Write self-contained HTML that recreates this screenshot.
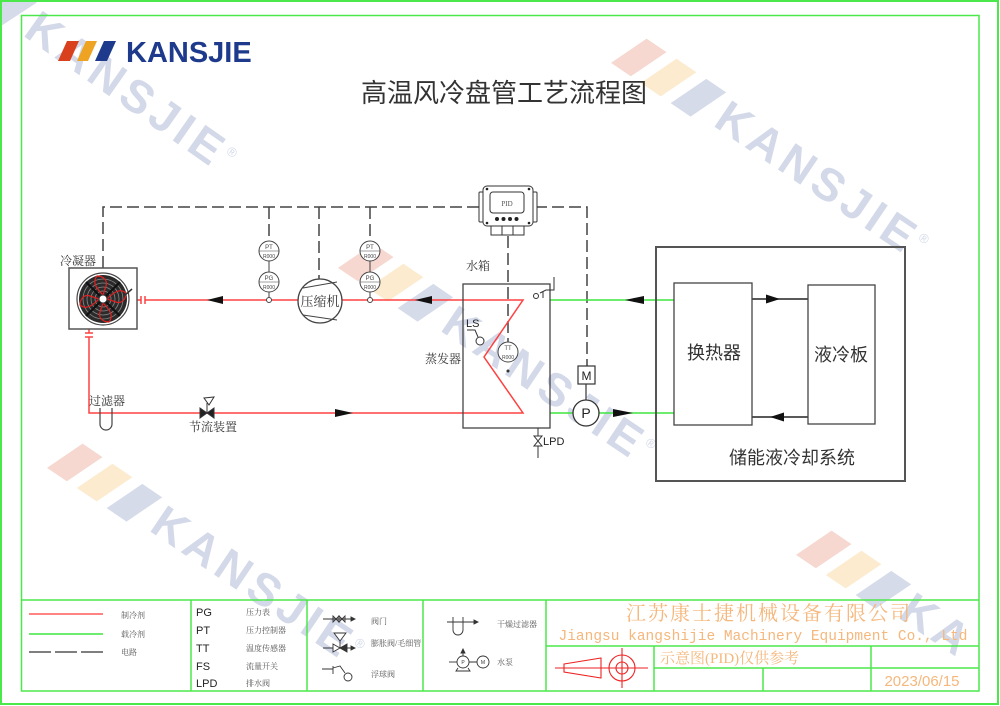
<!DOCTYPE html>
<html><head><meta charset="utf-8"><style>
html,body{margin:0;padding:0;background:#fff;width:1000px;height:706px;overflow:hidden;}
svg{display:block;overflow:hidden;}
.cn{font-family:"Liberation Serif","Noto Serif CJK SC",serif;}
.cs{font-family:"Liberation Sans","Noto Sans CJK SC",sans-serif;}
</style></head><body>
<svg width="1000" height="706" viewBox="0 0 1000 706" xmlns="http://www.w3.org/2000/svg">
<defs>
<clipPath id="pg"><rect x="0" y="0" width="1000" height="706"/></clipPath>
<g id="dia">
  <polygon points="-118.5,5 -94.5,5 -78.5,-35 -102.5,-35" fill="#f6d8d0"/>
  <polygon points="-82.5,5 -58.5,5 -42.5,-35 -66.5,-35" fill="#fcebcf"/>
  <polygon points="-46.5,5 -22.5,5 -6.5,-35 -30.5,-35" fill="#d6dbea"/>
</g>
<g id="wm">
  <use href="#dia"/>
  <text x="0" y="0" font-family="Liberation Sans, sans-serif" font-weight="bold" font-size="46" letter-spacing="5" fill="#d3d9e8">KANSJIE<tspan font-size="13" font-weight="normal" dy="-20">®</tspan></text>
</g>
</defs>

<!-- watermarks (under) -->
<g clip-path="url(#pg)">
<use href="#wm" transform="translate(22,35) rotate(35)"/>
<use href="#wm" transform="translate(712,125) rotate(34)"/>
<use href="#wm" transform="translate(439,330) rotate(34)"/>
<use href="#wm" transform="translate(148,530) rotate(34)"/>
<g transform="translate(897,617) rotate(34)">
  <use href="#dia"/>
  <text x="0" y="0" font-family="Liberation Sans, sans-serif" font-weight="bold" font-size="46" letter-spacing="5" fill="#d3d9e8">KA</text>
</g>
</g>

<!-- frames -->
<rect x="1" y="1" width="997" height="703" fill="none" stroke="#4be84b" stroke-width="2"/>
<rect x="21.5" y="15.5" width="957.5" height="675.5" fill="none" stroke="#4be84b" stroke-width="1.5"/>

<!-- logo -->
<polygon points="58,61 70,61 79,41 67,41" fill="#d9411e"/>
<polygon points="77,61 88,61 97,41 86,41" fill="#efa322"/>
<polygon points="95,61 107,61 116,41 104,41" fill="#1e3a8c"/>
<text x="126" y="62" font-family="Liberation Sans, sans-serif" font-weight="bold" font-size="29" fill="#1e3a8c">KANSJIE</text>

<!-- title -->
<text x="504" y="102" text-anchor="middle" class="cs" font-size="26" fill="#333">高温风冷盘管工艺流程图</text>

<!-- dashed electric lines -->
<g stroke="#444" stroke-width="1.5" fill="none" stroke-dasharray="12 5">
  <path d="M103 268 V207 H480"/>
  <path d="M535 207 H587 V366"/>
  <path d="M508 236 V342"/>
  <path d="M269 207 V241"/>
  <path d="M319 207 V279"/>
  <path d="M370 207 V241"/>
</g>

<!-- red refrigerant lines -->
<g stroke="#ff4040" stroke-width="1.5" fill="none">
  <path d="M137 300 H141 M145 300 H523 L484 357 L523 413 H89 V337 M89 333 V329"/>
  <path d="M141 296 V304 M145 296 V304"/>
  <path d="M85 333 H93 M85 337 H93"/>
</g>

<!-- green coolant lines -->
<g stroke="#3de63d" stroke-width="1.5" fill="none">
  <path d="M550 300 H674"/>
  <path d="M550 413 H674"/>
</g>

<!-- black lines in storage system -->
<g stroke="#222" stroke-width="1.5">
  <path d="M752 299 H808"/>
  <path d="M752 417 H808"/>
</g>

<!-- arrows -->
<g fill="#111">
  <polygon points="207,300 223,296 223,304"/>
  <polygon points="415,300 432,296 432,304"/>
  <polygon points="353,413 335,409 335,417"/>
  <polygon points="625,300 644,296 644,304"/>
  <polygon points="633,413 613,409 613,417"/>
  <polygon points="780,299 766,294.5 766,303.5"/>
  <polygon points="770,417 784,412.5 784,421.5"/>
</g>

<!-- condenser -->
<rect x="69" y="268" width="68" height="61" fill="#fff" stroke="#555" stroke-width="1.5"/>
<circle cx="103" cy="299" r="26" fill="#fff" stroke="#444" stroke-width="1.2"/>
<circle cx="103" cy="299" r="24" fill="#2b2b2b"/>
<g fill="none" stroke="#8a8a8a" stroke-width="0.8">
  <circle cx="103" cy="299" r="20"/><circle cx="103" cy="299" r="16"/><circle cx="103" cy="299" r="12"/><circle cx="103" cy="299" r="8"/>
</g>
<g stroke="#111" stroke-width="2.2">
  <path d="M86 282 L120 316 M120 282 L86 316"/>
</g>
<g fill="none" stroke="#e02020" stroke-width="1.2">
  <path d="M103 295 C96 288 92 282 97 276 C103 276 108 280 106 286 Z"/>
  <path d="M107 299 C114 292 120 288 126 293 C126 299 122 304 116 302 Z"/>
  <path d="M103 303 C110 310 114 316 109 322 C103 322 98 318 100 312 Z"/>
  <path d="M99 299 C92 306 86 310 80 305 C80 299 84 294 90 296 Z"/>
</g>
<circle cx="103" cy="299" r="4" fill="#fff" stroke="#333"/>
<path d="M124 296 L132 289" stroke="#333" stroke-width="1.5"/>
<text x="60" y="265" class="cn" font-size="12" fill="#333">冷凝器</text>

<!-- PT/PG instruments -->
<g stroke="#444" stroke-width="1" fill="#fff">
  <circle cx="269" cy="251" r="10"/><circle cx="269" cy="282" r="10"/>
  <path d="M269 261 V272 M269 292 V297.5" fill="none"/>
  <circle cx="269" cy="300" r="2.5"/>
  <circle cx="370" cy="251" r="10"/><circle cx="370" cy="282" r="10"/>
  <path d="M370 261 V272 M370 292 V297.5" fill="none"/>
  <circle cx="370" cy="300" r="2.5"/>
  <path d="M259 251 H279 M259 282 H279 M360 251 H380 M360 282 H380" stroke-width="0.5" fill="none"/>
</g>
<g class="cs" font-size="6" fill="#444" text-anchor="middle">
  <text x="269" y="249">PT</text><text x="269" y="258" font-size="5">R000</text>
  <text x="269" y="280">PG</text><text x="269" y="289" font-size="5">R000</text>
  <text x="370" y="249">PT</text><text x="370" y="258" font-size="5">R000</text>
  <text x="370" y="280">PG</text><text x="370" y="289" font-size="5">R000</text>
</g>

<!-- compressor -->
<circle cx="320" cy="301" r="22" fill="#fff" stroke="#444" stroke-width="1.3"/>
<path d="M303 288 L337 282 M303 315 L337 320" stroke="#444" stroke-width="1" fill="none"/>
<text x="320" y="306" text-anchor="middle" class="cn" font-size="13" fill="#333">压缩机</text>

<!-- filter & throttle -->
<path d="M100 408 V424 A6 6 0 0 0 112 424 V408" fill="none" stroke="#444" stroke-width="1.2"/>
<text x="89" y="405" class="cn" font-size="12" fill="#333">过滤器</text>
<g stroke="#333" stroke-width="1" fill="#222">
  <polygon points="200,408 207,413 200,418"/>
  <polygon points="214,408 207,413 214,418"/>
  <path d="M207 413 V403" fill="none"/>
  <polygon points="204,398 214,397 209,405" fill="#fff"/>
</g>
<text x="213" y="431" text-anchor="middle" class="cn" font-size="12" fill="#333">节流装置</text>

<!-- PID controller -->
<g stroke="#333" stroke-width="1" fill="#fff">
  <rect x="479" y="192" width="6" height="30" rx="1"/>
  <rect x="531" y="192" width="6" height="30" rx="1"/>
  <rect x="483" y="186" width="50" height="40" rx="4"/>
  <rect x="490" y="192" width="34" height="21" rx="3"/>
  <rect x="491" y="226" width="33" height="9"/>
  <path d="M502 226 V235 M513 226 V235" fill="none"/>
</g>
<g fill="#222">
  <circle cx="487" cy="189" r="1.3"/><circle cx="529" cy="189" r="1.3"/>
  <circle cx="487" cy="223" r="1.3"/><circle cx="529" cy="223" r="1.3"/>
  <circle cx="497" cy="219" r="2"/><circle cx="503.5" cy="219" r="2"/><circle cx="510" cy="219" r="2"/><circle cx="516.5" cy="219" r="2"/>
</g>
<text x="507" y="206" text-anchor="middle" class="cn" font-size="7" fill="#555">PID</text>

<!-- tank / evaporator -->
<text x="466" y="270" class="cn" font-size="12" fill="#333">水箱</text>
<rect x="463" y="284" width="87" height="144" fill="none" stroke="#444" stroke-width="1.3"/>
<text x="425" y="363" class="cn" font-size="12" fill="#333">蒸发器</text>
<text x="466" y="327" class="cs" font-size="11" fill="#222">LS</text>
<path d="M467 330 H475 L478 337" fill="none" stroke="#333" stroke-width="1"/>
<circle cx="480" cy="341" r="4" fill="#fff" stroke="#333" stroke-width="1"/>
<circle cx="508" cy="352" r="10" fill="#fff" stroke="#444" stroke-width="1"/>
<text x="508" y="350" text-anchor="middle" class="cs" font-size="6" fill="#444">TT</text>
<text x="508" y="359" text-anchor="middle" class="cs" font-size="5" fill="#444">R000</text>
<circle cx="508" cy="371" r="1.5" fill="#333"/>
<path d="M554 277 V290 H546 L540 293" fill="none" stroke="#333" stroke-width="1"/>
<circle cx="536" cy="296" r="2.5" fill="#fff" stroke="#333" stroke-width="1"/>
<path d="M543 291 V298" stroke="#333" stroke-width="1"/>

<!-- LPD -->
<path d="M538 428 V458" stroke="#333" stroke-width="1"/>
<polygon points="534,436 542,436 538,441 542,446 534,446 538,441" fill="#fff" stroke="#333" stroke-width="1"/>
<text x="543" y="445" class="cs" font-size="11" fill="#222">LPD</text>

<!-- pump & motor -->
<rect x="578" y="366" width="17" height="18" fill="#fff" stroke="#333" stroke-width="1.2"/>
<text x="586.5" y="380" text-anchor="middle" class="cs" font-size="12" fill="#222">M</text>
<path d="M586 384 V400" stroke="#333" stroke-width="1.2"/>
<circle cx="586" cy="413" r="13" fill="#fff" stroke="#333" stroke-width="1.3"/>
<text x="586" y="418" text-anchor="middle" class="cs" font-size="14" fill="#222">P</text>

<!-- storage liquid cooling system -->
<rect x="656" y="247" width="249" height="234" fill="none" stroke="#555" stroke-width="2"/>
<rect x="674" y="283" width="78" height="142" fill="#fff" stroke="#444" stroke-width="1.3"/>
<rect x="808" y="285" width="67" height="139" fill="#fff" stroke="#444" stroke-width="1.3"/>
<text x="714" y="359" text-anchor="middle" class="cs" font-size="18" fill="#333">换热器</text>
<text x="841" y="361" text-anchor="middle" class="cs" font-size="18" fill="#333">液冷板</text>
<text x="792" y="464" text-anchor="middle" class="cs" font-size="18" fill="#333">储能液冷却系统</text>

<!-- legend table -->
<g stroke="#4be84b" stroke-width="1.5" fill="none">
  <path d="M21 600 H979"/>
  <path d="M191 600 V691 M307 600 V691 M423 600 V691 M546 600 V691"/>
  <path d="M546 646 H979 M654 668 H979 M654 646 V691 M763 668 V691 M871 646 V691"/>
</g>
<path d="M29 614 H103" stroke="#ff5a5a" stroke-width="1.5"/>
<path d="M29 634 H103" stroke="#3de63d" stroke-width="1.5"/>
<path d="M29 652 H103" stroke="#555" stroke-width="1.5" stroke-dasharray="22 4"/>
<g class="cn" font-size="8" fill="#555">
  <text x="121" y="618">制冷剂</text>
  <text x="121" y="637">载冷剂</text>
  <text x="121" y="655">电路</text>
  <text x="246" y="615">压力表</text>
  <text x="246" y="633">压力控制器</text>
  <text x="246" y="651">温度传感器</text>
  <text x="246" y="669">流量开关</text>
  <text x="246" y="686">排水阀</text>
  <text x="371" y="624">阀门</text>
  <text x="371" y="646">膨胀阀/毛细管</text>
  <text x="371" y="677">浮球阀</text>
  <text x="497" y="627">干燥过滤器</text>
  <text x="497" y="665">水泵</text>
</g>
<g class="cs" font-size="11" fill="#222">
  <text x="196" y="616">PG</text>
  <text x="196" y="634">PT</text>
  <text x="196" y="652">TT</text>
  <text x="196" y="670">FS</text>
  <text x="196" y="687">LPD</text>
</g>
<!-- legend symbols -->
<g stroke="#333" stroke-width="0.9" fill="none">
  <path d="M323 619 H355"/>
  <polygon points="355,619 351,617 351,621" fill="#333"/>
  <path d="M333 616 L339 622 V616 L333 622 Z M339 616 L345 622 V616 L339 622 Z"/>
  <path d="M323 648 H355"/>
  <polygon points="355,648 351,646 351,650" fill="#333"/>
  <polygon points="333,644 340,648 333,652" fill="#fff"/>
  <polygon points="347,644 340,648 347,652" fill="#333"/>
  <path d="M340 648 V641"/>
  <polygon points="334,633 346,633 340,641" fill="#fff"/>
  <path d="M322 669 H333 M333 666 V674 M333 668 L340 666 L345 673"/>
  <circle cx="348" cy="677" r="4"/>
  <path d="M447 622 H478"/>
  <polygon points="478,622 474,620 474,624" fill="#333"/>
  <path d="M453 617 V630 A5 5 0 0 0 463 630 V617"/>
  <path d="M449 662 H457"/>
  <circle cx="463" cy="662" r="6"/>
  <circle cx="483" cy="662" r="6"/>
  <path d="M469 662 H477 M463 656 V650 M458 668 L456 671 H470 L468 668"/>
  <polygon points="463,649 461,653 465,653" fill="#333"/>
</g>
<g class="cs" font-size="5" fill="#333" text-anchor="middle">
  <text x="463" y="664">P</text><text x="483" y="664">M</text>
</g>

<!-- title block -->
<text x="769" y="620" text-anchor="middle" class="cn" font-size="20" letter-spacing="2" fill="#f5b77c">江苏康士捷机械设备有限公司</text>
<text x="763" y="640" text-anchor="middle" font-family="Liberation Mono, monospace" font-size="14.5" fill="#f5b77c">Jiangsu kangshijie Machinery Equipment Co., Ltd</text>
<text x="660" y="663" class="cn" font-size="15" fill="#f5b77c">示意图(PID)仅供参考</text>
<text x="922" y="686" text-anchor="middle" class="cs" font-size="15" fill="#f5b77c">2023/06/15</text>
<g stroke="#ee2222" stroke-width="1.1" fill="none">
  <path d="M555 668 H648"/>
  <path d="M622 648 V688"/>
  <polygon points="564,664 601,658 601,678 564,672"/>
  <circle cx="622" cy="668" r="13"/>
  <circle cx="622" cy="668" r="6"/>
</g>
</svg>
</body></html>
